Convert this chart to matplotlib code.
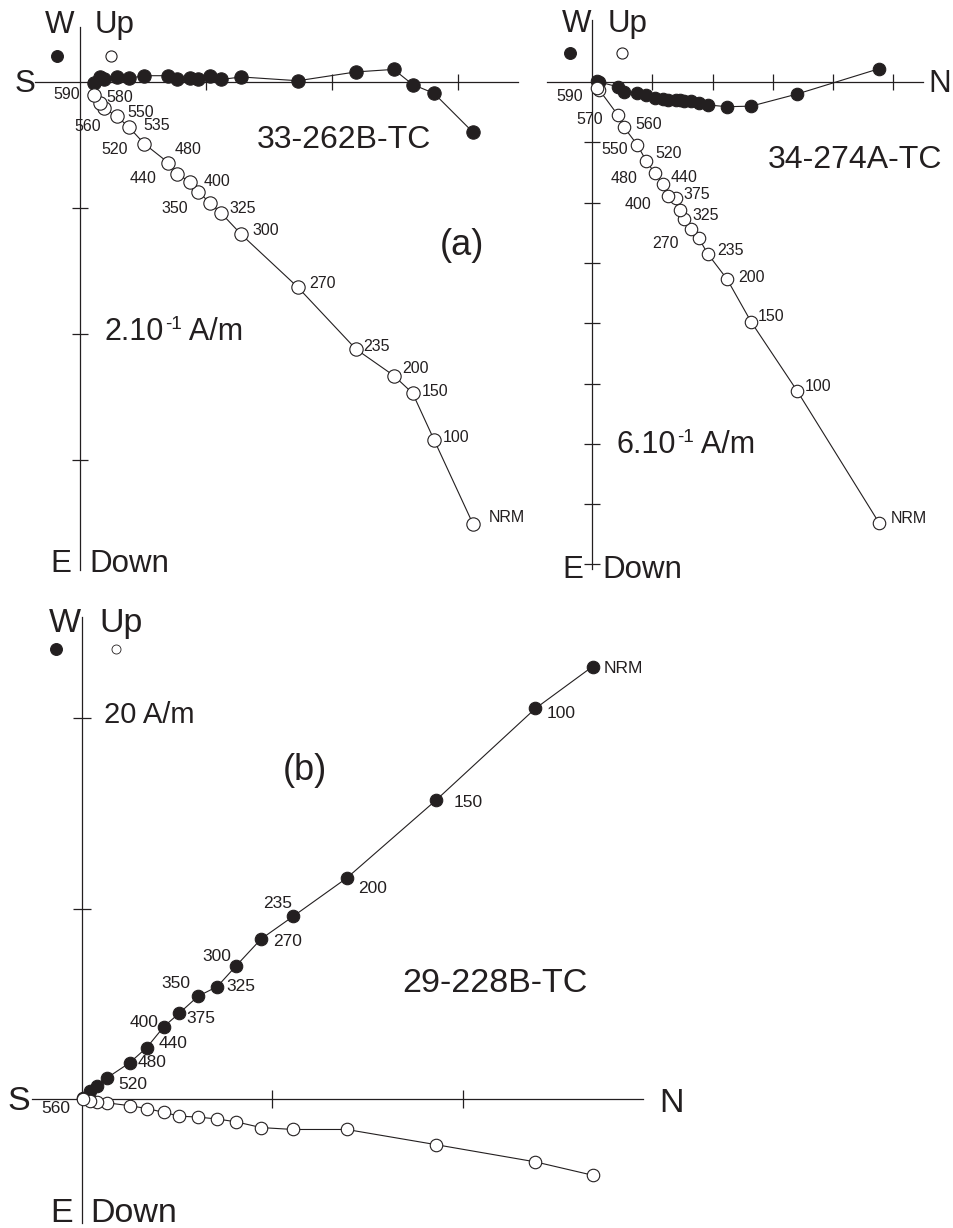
import matplotlib
matplotlib.use('Agg')
import matplotlib.pyplot as plt
from matplotlib.lines import Line2D

plt.rcParams['font.family'] = ['Liberation Sans', 'DejaVu Sans']
INK = '#231f20'
W, H = 954, 1228

# 33-262B-TC, A/m (N component, W component, Up component), NRM -> 590 C
a1_n = [0.312, 0.281, 0.264, 0.249, 0.219, 0.173, 0.128, 0.112, 0.103, 0.094,
        0.087, 0.077, 0.070, 0.051, 0.039, 0.029, 0.019, 0.016, 0.011]
a1_w = [-0.040, -0.009, -0.002, 0.010, 0.008, 0.001, 0.004, 0.002, 0.005, 0.002,
        0.003, 0.002, 0.005, 0.005, 0.003, 0.004, 0.002, 0.004, -0.001]
a1_up = [-0.351, -0.284, -0.247, -0.233, -0.212, -0.163, -0.121, -0.104, -0.096, -0.087,
         -0.079, -0.073, -0.064, -0.049, -0.036, -0.027, -0.021, -0.017, -0.010]
a1_steps = ['NRM', '100', '150', '200', '235', '270', '300', '325', '350', '400',
            '440', '480', '520', '535', '550', '560', '', '580', '590']

# 34-274A-TC
a2_n = [0.476, 0.340, 0.264, 0.224, 0.192, 0.177, 0.164, 0.153, 0.146, 0.139,
        0.126, 0.118, 0.104, 0.090, 0.075, 0.053, 0.043, 0.012, 0.008]
a2_w = [0.022, -0.020, -0.040, -0.041, -0.038, -0.035, -0.032, -0.032, -0.030, -0.030,
        -0.030, -0.028, -0.027, -0.022, -0.018, -0.017, -0.008, 0.000, 0.002]
a2_up = [-0.731, -0.512, -0.398, -0.327, -0.285, -0.259, -0.244, -0.227, -0.212, -0.192,
         -0.189, -0.169, -0.151, -0.131, -0.104, -0.075, -0.055, -0.013, -0.010]
a2_steps = ['NRM', '100', '150', '200', '235', '270', '', '325', '', '375',
            '400', '440', '480', '520', '550', '560', '570', '', '590']

# 29-228B-TC
b_n = [26.8, 23.8, 18.6, 13.9, 11.1, 9.4, 8.1, 7.1, 6.1, 5.1, 4.3, 3.4, 2.5, 1.3, 0.8, 0.4, 0.05]
b_w = [22.7, 20.5, 15.7, 11.6, 9.6, 8.4, 7.0, 5.9, 5.4, 4.5, 3.8, 2.7, 1.9, 1.1, 0.7, 0.4, 0.05]
b_up = [-4.0, -3.3, -2.4, -1.6, -1.6, -1.5, -1.2, -1.05, -0.95, -0.9, -0.7, -0.5, -0.35,
        -0.2, -0.15, -0.1, 0.0]
b_steps = ['NRM', '100', '150', '200', '235', '270', '300', '325', '350', '375',
           '400', '440', '480', '520', '', '', '560']

# label offsets in pixels (label centre relative to its point)
a1_off = [(34, 7), (22, 2), (22, 2), (22, 7), (21, 3), (25, 4), (24, 4), (22, 5), (-35, -6), (19, 10),
          (-47, 3), (11, 24), (-54, 13), (12, 18), (12, 15), (-29, -10), (0, 0), (20, 6), (-27, 0)]
a2_off = [(30, 4), (21, 4), (20, 5), (24, 2), (23, 3), (-33, -5), (0, 0), (21, 3), (0, 0), (21, 3),
          (-30, -9), (21, 6), (-31, -5), (22, 7), (-23, -5), (25, 3), (-28, -4), (0, 0), (-27, -8)]
b_off = [(31, -2), (26, -5), (32, -3), (26, -10), (-16, 13), (26, -3), (-20, 9), (24, 0), (-22, 13),
         (22, -5), (-20, 4), (26, 4), (22, 0), (26, -6), (0, 0), (0, 0), (-27, -10)]

fig = plt.figure(figsize=(W / 100, H / 100), dpi=100)
renderer = fig.canvas.get_renderer()


def panel(box, origin, px_per_unit):
    L, T, R, B = box
    x0, y0 = origin
    ax = fig.add_axes([L / W, 1 - B / H, (R - L) / W, (B - T) / H])
    ax.set_xlim((L - x0) / px_per_unit, (R - x0) / px_per_unit)
    ax.set_ylim((y0 - B) / px_per_unit, (y0 - T) / px_per_unit)
    ax.axis('off')
    return ax


def cross(ax, xr, yr, xt, yt, tlen):
    ax.plot(xr, [0, 0], color=INK, lw=0.9, clip_on=False)
    ax.plot([0, 0], yr, color=INK, lw=0.9, clip_on=False)
    ax.plot(xt, [0] * len(xt), ls='none', marker='|', ms=tlen, mew=0.9, color=INK, clip_on=False)
    ax.plot([0] * len(yt), yt, ls='none', marker='_', ms=tlen, mew=0.9, color=INK, clip_on=False)


def series(ax, n, w, up, ms):
    ax.plot(n, w, '-', color=INK, lw=0.8, marker='o', ms=ms, mfc=INK, mec=INK, mew=0.8, clip_on=False)
    ax.plot(n, up, '-', color=INK, lw=0.8, marker='o', ms=ms, mfc='white', mec=INK, mew=0.8, clip_on=False)


def steps(ax, n, y, labels, offs, size):
    for xi, yi, lab, (dx, dy) in zip(n, y, labels, offs):
        if lab:
            ax.annotate(lab, (xi, yi), xytext=(dx, dy), textcoords='offset pixels',
                        ha='center', va='center', fontsize=size, color=INK)


def txt(x, y, s, size, ha='left'):
    return fig.text(x / W, 1 - y / H, s, fontsize=size, color=INK, ha=ha, va='baseline')


def scale_text(x, y, mant, unit, size):
    # mantissa, raised exponent, unit placed one after another
    t = txt(x, y, mant, size)
    x1 = t.get_window_extent(renderer).x1
    e = fig.text((x1 + 1) / W, 1 - (y - 0.5 * size) / H, '-1', fontsize=size * 0.62,
                 color=INK, ha='left', va='baseline')
    x2 = e.get_window_extent(renderer).x1
    txt(x2, y, ' ' + unit, size)


def key(x, y, filled, ms, mew=0.8):
    fig.add_artist(Line2D([x / W], [1 - y / H], ls='none', marker='o', ms=ms,
                          mfc=INK if filled else 'white', mec=INK, mew=mew))


# (a) left
ax1 = panel((0, 0, 540, 600), (80, 82), 1260)
cross(ax1, [-0.036, 0.348], [-0.387, 0.044], [0.1, 0.2, 0.3], [-0.1, -0.2, -0.3], 11)
series(ax1, a1_n, a1_w, a1_up, 9.6)
steps(ax1, a1_n, a1_up, a1_steps, a1_off, 11.5)

# (a) right
ax2 = panel((540, 0, 954, 600), (592, 82), 603)
cross(ax2, [-0.075, 0.549], [-0.808, 0.103], [0.1, 0.2, 0.3, 0.4, 0.5],
      [-0.1, -0.2, -0.3, -0.4, -0.5, -0.6, -0.7, -0.8], 11)
series(ax2, a2_n, a2_w, a2_up, 9)
steps(ax2, a2_n, a2_up, a2_steps, a2_off, 11.5)

# (b)
ax3 = panel((0, 600, 954, 1228), (82, 1099), 19.05)
cross(ax3, [-2.6, 29.45], [-6.5, 25.3], [10, 20], [10, 20], 13)
series(ax3, b_n, b_w, b_up, 9)
steps(ax3, b_n, b_w, b_steps, b_off, 12.5)

# axis names and legends
txt(60, 33, 'W', 22.5, ha='center')
txt(95, 33, 'Up', 22.5)
txt(15, 92, 'S', 22.5)
txt(50, 572, 'E', 22.5)
txt(89, 572, 'Down', 22.5)
txt(257, 148, '33-262B-TC', 23)
txt(440, 255, '(a)', 26)
scale_text(105, 340, '2.10', 'A/m', 22)
key(57, 56, True, 8.5)
key(111, 56, False, 8)

txt(562, 32, 'W', 22.5)
txt(608, 32, 'Up', 22.5)
txt(928, 92, 'N', 22.5)
txt(562, 578, 'E', 22.5)
txt(602, 578, 'Down', 22.5)
txt(768, 168, '34-274A-TC', 23)
scale_text(617, 453, '6.10', 'A/m', 22)
key(570, 53, True, 8.5)
key(622, 53, False, 8)

txt(49, 632, 'W', 24.5)
txt(99, 632, 'Up', 24.5)
txt(7, 1110, 'S', 24.5)
txt(659, 1112, 'N', 24.5)
txt(50, 1222, 'E', 24.5)
txt(90, 1222, 'Down', 24.5)
txt(104, 723, '20 A/m', 21)
txt(283, 780, '(b)', 26)
txt(402, 992, '29-228B-TC', 24.5)
key(56, 649, True, 8.5)
key(116, 649, False, 6.5, mew=0.6)

fig.savefig('out.png', dpi=100)
